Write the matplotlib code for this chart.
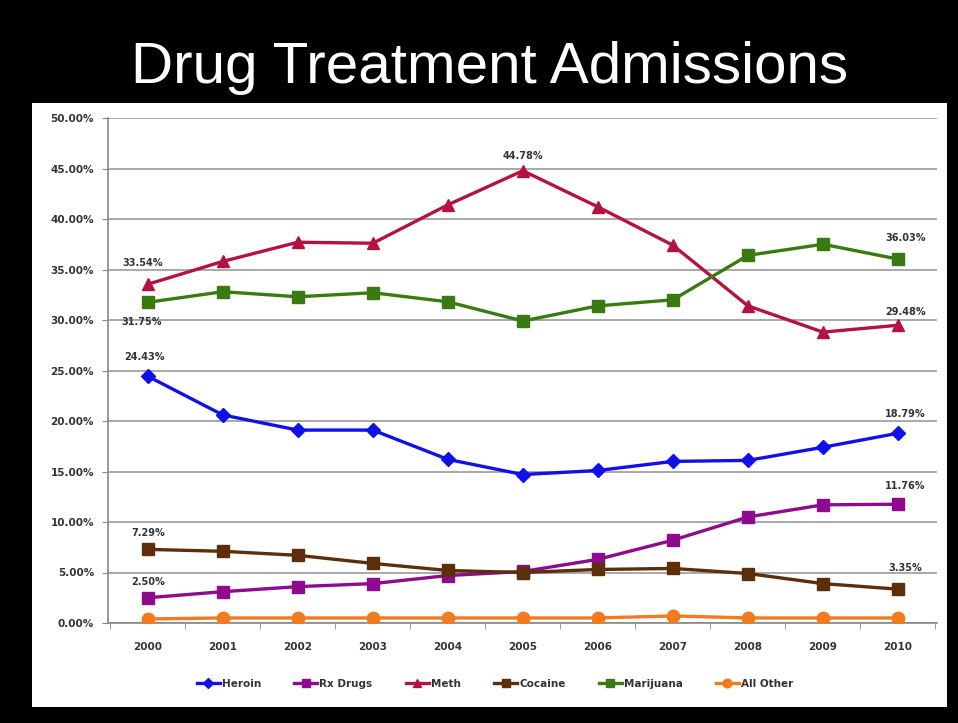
import numpy as np
import matplotlib
matplotlib.use("Agg")
import matplotlib.pyplot as plt
from matplotlib.patches import Rectangle
from matplotlib.ticker import FuncFormatter, MultipleLocator

years = ["2000", "2001", "2002", "2003", "2004", "2005",
         "2006", "2007", "2008", "2009", "2010"]

heroin = [24.43, 20.6, 19.1, 19.1, 16.2, 14.7, 15.1, 16.0, 16.1, 17.4, 18.79]
rx_drugs = [2.50, 3.1, 3.6, 3.9, 4.7, 5.1, 6.3, 8.2, 10.5, 11.7, 11.76]
meth = [33.54, 35.8, 37.7, 37.6, 41.4, 44.78, 41.2, 37.4, 31.4, 28.8, 29.48]
cocaine = [7.29, 7.1, 6.7, 5.9, 5.2, 5.0, 5.3, 5.4, 4.9, 3.9, 3.35]
marijuana = [31.75, 32.8, 32.3, 32.7, 31.8, 29.9, 31.4, 32.0, 36.4, 37.5, 36.03]
all_other = [0.4, 0.5, 0.5, 0.5, 0.5, 0.5, 0.5, 0.7, 0.5, 0.5, 0.5]

series = [
    ("Heroin", heroin, "#1010E8", "D", 7),
    ("Rx Drugs", rx_drugs, "#8E0A8E", "s", 9),
    ("Meth", meth, "#B5123F", "^", 9),
    ("Cocaine", cocaine, "#5C2E0A", "s", 9),
    ("Marijuana", marijuana, "#3A7A12", "s", 9),
    ("All Other", all_other, "#F47A1F", "o", 9),
]

# (series index, point index, dx, dy) for the value labels
labels = [
    (2, 0, -0.07, 2.1), (4, 0, -0.08, -1.9), (0, 0, -0.05, 1.9),
    (3, 0, 0.0, 1.6), (1, 0, 0.0, 1.6), (2, 5, 0.0, 1.5),
    (4, 10, 0.1, 2.1), (2, 10, 0.1, 1.3), (0, 10, 0.1, 1.9),
    (1, 10, 0.1, 1.8), (3, 10, 0.1, 2.1),
]

fig = plt.figure(figsize=(9.58, 7.23), dpi=100, facecolor="black")
fig.patches.append(Rectangle((32 / 958, 1 - 707 / 723), 915 / 958, 604 / 723,
                             transform=fig.transFigure, facecolor="white",
                             edgecolor="none", zorder=-5))

fig.text(490 / 958, 1 - 68 / 723, "Drug Treatment Admissions", color="white",
         fontsize=42, family="Liberation Sans", ha="center", va="center")

ax = fig.add_axes([108 / 958, 1 - 623 / 723, 829 / 958, 505 / 723])
ax.set_facecolor("white")
x = np.arange(len(years))

for name, vals, color, marker, ms in series:
    ax.plot(x, vals, color=color, lw=2.4, marker=marker, markersize=ms,
            label=name, zorder=3)

for si, pi, dx, dy in labels:
    val = series[si][1][pi]
    ax.text(x[pi] + dx, val + dy, f"{val:.2f}%", fontsize=7, color="#333333",
            ha="center", va="center", fontweight="bold")

ax.set_xlim(-0.53, 10.52)
ax.set_ylim(0, 50)
ax.yaxis.set_major_locator(MultipleLocator(5))
ax.yaxis.set_major_formatter(FuncFormatter(lambda v, p: f"{v:.2f}%"))
ax.grid(axis="y", color="#A8A8A8", lw=1.4)
ax.set_axisbelow(True)
ax.set_xticks(x)
ax.set_xticklabels(years)
ax.set_xticks(np.arange(-0.5, 10.6, 1), minor=True)
ax.tick_params(axis="x", which="major", length=0, pad=14)
ax.tick_params(axis="x", which="minor", length=4, color="#888888")
ax.tick_params(axis="y", length=4, color="#888888", pad=6)
for lab in ax.get_xticklabels() + ax.get_yticklabels():
    lab.set_fontsize(7.5)
    lab.set_color("#333333")
    lab.set_fontweight("bold")
for side in ["top", "right"]:
    ax.spines[side].set_visible(False)
for side in ["left", "bottom"]:
    ax.spines[side].set_color("#888888")
    ax.spines[side].set_linewidth(1.2)

leg = fig.legend(loc="center", bbox_to_anchor=(495 / 958, 1 - 684 / 723),
                 ncol=6, frameon=False, fontsize=7.5, handlelength=2.2,
                 columnspacing=3.2, handletextpad=0.2, markerscale=0.7)
for t in leg.get_texts():
    t.set_color("#333333")
    t.set_fontweight("bold")

fig.savefig("out.png", dpi=100, facecolor="black")
